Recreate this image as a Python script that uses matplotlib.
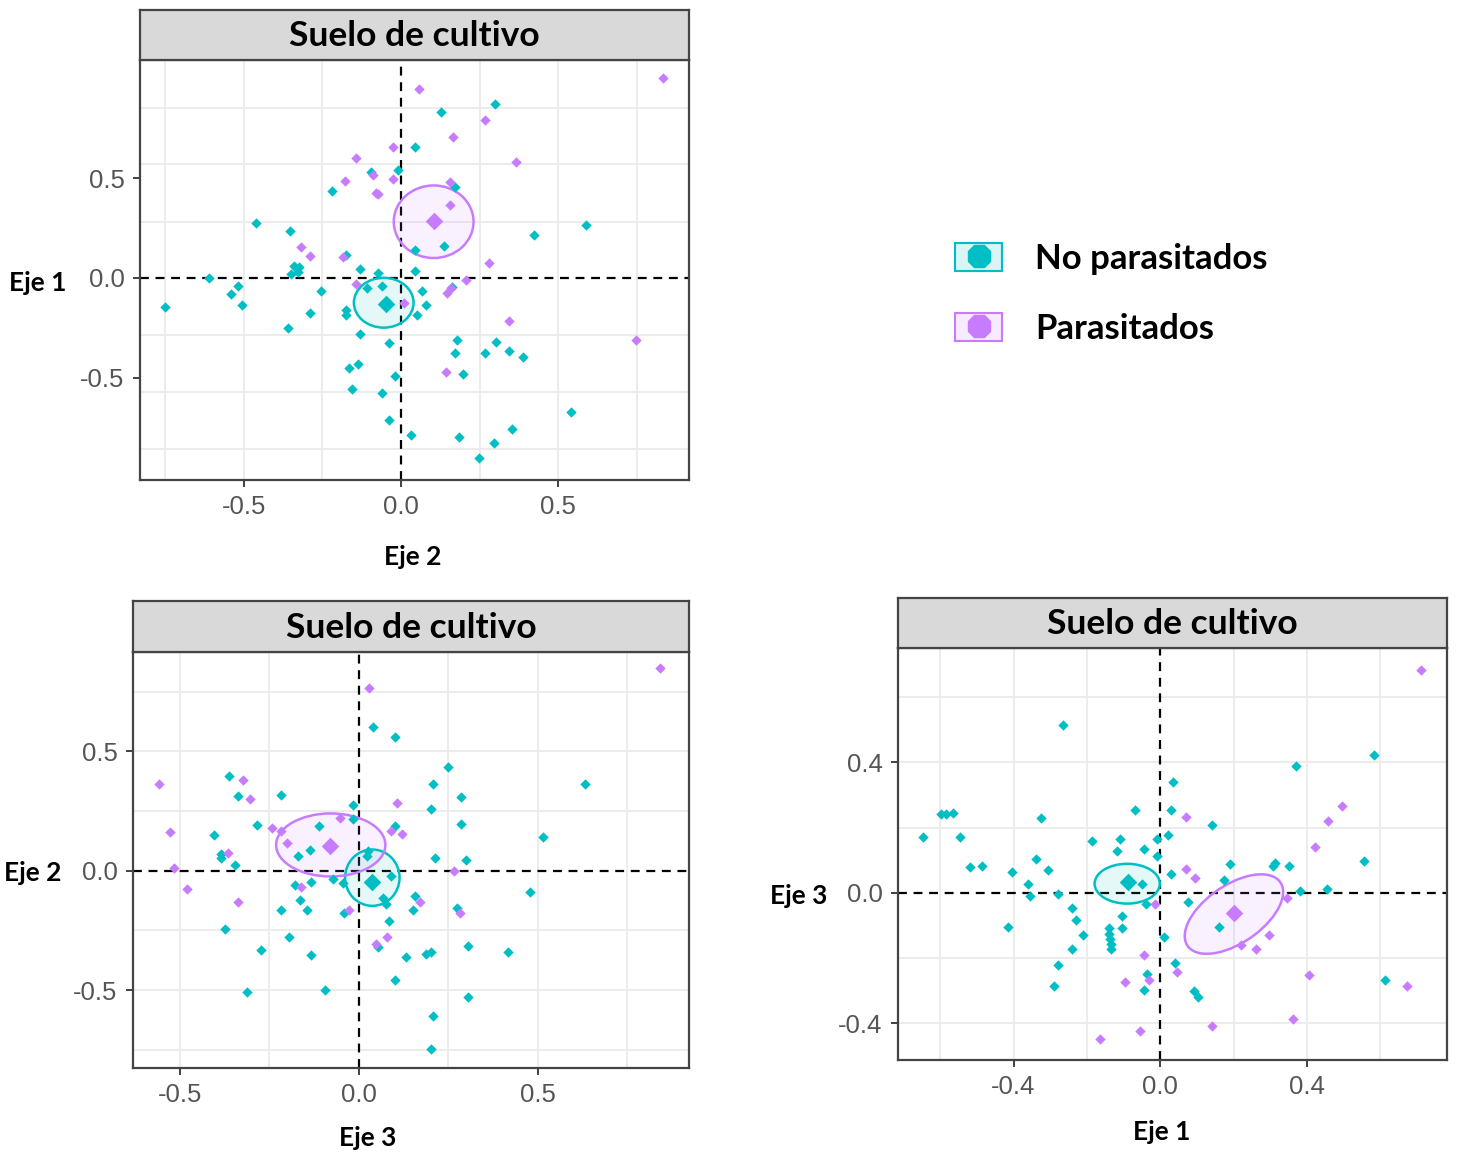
import numpy as np
import matplotlib
matplotlib.use("Agg")
import matplotlib.pyplot as plt
from matplotlib.patches import Ellipse, Patch
from matplotlib.lines import Line2D
from matplotlib.legend_handler import HandlerTuple

TEAL = "#00BFC4"
PURPLE = "#C77CFF"
W, H = 1458, 1157

# ---- panel 1 : Eje 2 (x) vs Eje 1 (y)
p1_teal_x = [0.298, 0.128, 0.046, -0.096, -0.009, 0.171, -0.220, -0.463, 0.588, -0.352, 0.423, 0.136,
             0.046, -0.176, -0.340, -0.324, -0.349, -0.329, -0.129, -0.073, 0.046, -0.610, -0.519, -0.541,
             -0.507, -0.750, -0.256, -0.108, -0.061, 0.162, 0.067, 0.080, -0.290, -0.175, -0.175, 0.050,
             -0.359, -0.129, -0.039, 0.177, 0.171, 0.302, 0.268, 0.344, 0.387, 0.198, -0.164, -0.136,
             -0.019, -0.157, -0.060, 0.541, -0.039, 0.031, 0.184, 0.352, 0.296, 0.247]
p1_teal_y = [0.874, 0.833, 0.655, 0.531, 0.541, 0.456, 0.434, 0.275, 0.267, 0.234, 0.214, 0.159,
             0.139, 0.116, 0.060, 0.056, 0.020, 0.028, 0.045, 0.023, 0.033, 0.002, -0.040, -0.080,
             -0.133, -0.146, -0.063, -0.050, -0.040, -0.046, -0.063, -0.133, -0.176, -0.163, -0.187, -0.187,
             -0.250, -0.282, -0.325, -0.312, -0.376, -0.323, -0.376, -0.365, -0.398, -0.483, -0.449, -0.431,
             -0.491, -0.556, -0.577, -0.672, -0.713, -0.788, -0.798, -0.756, -0.829, -0.904]
p1_purp_x = [0.834, 0.058, 0.268, 0.164, -0.026, -0.143, 0.365, -0.089, -0.026, -0.177, 0.156, -0.081,
             -0.073, 0.156, -0.318, -0.289, -0.186, 0.281, 0.206, 0.158, 0.148, 0.011, -0.142, 0.344,
             0.748, 0.142]
p1_purp_y = [1.002, 0.950, 0.791, 0.708, 0.655, 0.602, 0.582, 0.517, 0.498, 0.484, 0.479, 0.426,
             0.423, 0.368, 0.153, 0.109, 0.103, 0.075, -0.008, -0.051, -0.073, -0.126, -0.030, -0.217,
             -0.312, -0.473]
p1_centroids = [(-0.047, -0.129), (0.106, 0.285)]
p1_ellipses = [(-0.055, -0.124, 0.19, 0.25, 0), (0.104, 0.282, 0.254, 0.364, 0)]

# ---- panel 2 : Eje 3 (x) vs Eje 2 (y)
p2_teal_x = [0.041, 0.101, 0.250, -0.361, 0.207, 0.633, -0.336, -0.218, 0.286, -0.015, 0.201, -0.015,
             -0.111, 0.286, -0.284, -0.405, 0.101, 0.515, -0.137, -0.169, -0.383, -0.383, -0.345, 0.212,
             0.300, 0.027, 0.022, -0.071, -0.043, 0.091, -0.132, -0.177, 0.479, 0.067, 0.077, 0.157,
             -0.163, -0.218, -0.144, -0.041, 0.151, 0.274, 0.084, -0.374, 0.054, -0.194, -0.274, -0.132,
             0.133, 0.188, 0.203, 0.306, 0.417, 0.101, -0.311, -0.095, 0.306, 0.207, 0.201]
p2_teal_y = [0.601, 0.558, 0.434, 0.397, 0.364, 0.364, 0.312, 0.319, 0.310, 0.275, 0.257, 0.215,
             0.187, 0.197, 0.190, 0.149, 0.187, 0.142, 0.088, 0.063, 0.072, 0.053, 0.025, 0.053,
             0.046, 0.081, 0.060, -0.035, -0.052, -0.024, -0.049, -0.060, -0.087, -0.115, -0.139, -0.104,
             -0.122, -0.164, -0.164, -0.176, -0.164, -0.157, -0.211, -0.246, -0.319, -0.279, -0.333, -0.351,
             -0.360, -0.350, -0.341, -0.315, -0.341, -0.456, -0.508, -0.501, -0.527, -0.607, -0.747]
p2_purp_x = [0.842, 0.028, -0.324, -0.558, -0.304, 0.108, -0.053, -0.242, -0.217, -0.527, 0.091, 0.121,
             -0.200, -0.364, -0.516, 0.267, -0.162, -0.478, 0.171, -0.336, -0.027, 0.282, 0.078, 0.047]
p2_purp_y = [0.847, 0.767, 0.381, 0.364, 0.301, 0.284, 0.222, 0.177, 0.166, 0.162, 0.166, 0.152,
             0.117, 0.074, 0.011, -0.003, -0.070, -0.077, -0.131, -0.131, -0.164, -0.178, -0.279, -0.305]
p2_centroids = [(0.037, -0.049), (-0.080, 0.103)]
p2_ellipses = [(0.038, -0.029, 0.152, 0.236, 0), (-0.078, 0.108, 0.305, 0.264, 0)]

# ---- panel 3 : Eje 1 (x) vs Eje 3 (y)
p3_teal_x = [-0.264, 0.584, 0.369, 0.035, -0.598, -0.584, -0.565, -0.068, 0.029, -0.325, 0.142, -0.647,
             -0.547, -0.186, -0.110, -0.008, 0.022, -0.117, -0.043, -0.010, -0.340, 0.555, -0.518, -0.487,
             -0.403, -0.306, 0.191, 0.307, 0.314, 0.352, 0.029, -0.050, -0.360, -0.354, -0.278, 0.174,
             0.456, 0.381, 0.075, -0.039, -0.241, -0.229, -0.103, -0.415, -0.103, -0.141, -0.139, -0.137,
             -0.133, -0.133, -0.210, 0.160, 0.010, -0.241, -0.278, 0.041, -0.037, -0.043, -0.289, 0.092,
             0.104, 0.614]
p3_teal_y = [0.515, 0.422, 0.390, 0.341, 0.241, 0.241, 0.246, 0.253, 0.253, 0.228, 0.208, 0.172,
             0.172, 0.159, 0.166, 0.166, 0.178, 0.129, 0.135, 0.114, 0.104, 0.097, 0.078, 0.083,
             0.065, 0.070, 0.088, 0.083, 0.090, 0.083, 0.059, 0.027, 0.028, -0.010, -0.003, 0.040,
             0.013, 0.005, -0.027, -0.035, -0.047, -0.083, -0.072, -0.104, -0.109, -0.109, -0.126, -0.141,
             -0.156, -0.171, -0.129, -0.104, -0.136, -0.172, -0.222, -0.216, -0.248, -0.298, -0.284, -0.302,
             -0.320, -0.266]
p3_purp_x = [0.711, 0.495, 0.069, 0.458, 0.423, 0.069, 0.095, 0.346, -0.013, 0.297, 0.220, 0.261,
             -0.043, 0.045, -0.031, -0.097, 0.405, 0.674, 0.363, 0.142, -0.056, -0.163]
p3_purp_y = [0.683, 0.265, 0.233, 0.221, 0.141, 0.072, 0.047, -0.015, -0.033, -0.129, -0.161, -0.172,
             -0.191, -0.241, -0.266, -0.272, -0.253, -0.284, -0.385, -0.409, -0.422, -0.447]
p3_centroids = [(-0.089, 0.033), (0.201, -0.063)]
p3_ellipses = [(-0.090, 0.028, 0.178, 0.122, 0), (0.201, -0.065, 0.32, 0.17, 40)]

panel_title = "Suelo de cultivo"
legend_labels = ["No parasitados", "Parasitados"]

LABEL_FONT = ["Lato", "DejaVu Sans"]
TICK_FONT = ["Liberation Sans", "DejaVu Sans"]


def box(l, t, r, b):
    return [l / W, 1 - b / H, (r - l) / W, (b - t) / H]


fig = plt.figure(figsize=(W / 100, H / 100), dpi=100)


def panel(rect, strip_rect, tx, ty, px, py, cents, ells, xlim, ylim, xticks, yticks, xgrid, ygrid):
    ax = fig.add_axes(box(*rect))
    ax.set_xlim(*xlim)
    ax.set_ylim(*ylim)
    ax.set_xticks(xticks)
    ax.set_yticks(yticks)
    ax.set_xticklabels([f"{v:.1f}" for v in xticks], fontfamily=TICK_FONT)
    ax.set_yticklabels([f"{v:.1f}" for v in yticks], fontfamily=TICK_FONT)
    for g in xgrid:
        ax.axvline(g, color="#ebebeb", lw=1.3, zorder=0)
    for g in ygrid:
        ax.axhline(g, color="#ebebeb", lw=1.3, zorder=0)
    ax.tick_params(labelsize=18.5, labelcolor="#555555", color="#333333", length=5, width=1.3, pad=6)
    for s in ax.spines.values():
        s.set_color("#444444")
        s.set_linewidth(1.6)
    ax.axhline(0, color="black", ls=(0, (4, 3)), lw=1.6, zorder=1)
    ax.axvline(0, color="black", ls=(0, (4, 3)), lw=1.6, zorder=1)
    for (cx, cy, w, h, a), col in zip(ells, [TEAL, PURPLE]):
        ax.add_patch(Ellipse((cx, cy), w, h, angle=a, facecolor=col, alpha=0.1, edgecolor="none", zorder=2))
        ax.add_patch(Ellipse((cx, cy), w, h, angle=a, facecolor="none", edgecolor=col, lw=1.8, zorder=3))
    ax.scatter(tx, ty, marker="D", s=28, color=TEAL, linewidths=0, zorder=4)
    ax.scatter(px, py, marker="D", s=28, color=PURPLE, linewidths=0, zorder=4)
    for (cx, cy), col in zip(cents, [TEAL, PURPLE]):
        ax.scatter([cx], [cy], marker="D", s=80, color=col, linewidths=0, zorder=5)

    sx = fig.add_axes(box(*strip_rect))
    sx.set_facecolor("#d9d9d9")
    sx.set_xticks([])
    sx.set_yticks([])
    for s in sx.spines.values():
        s.set_color("#444444")
        s.set_linewidth(1.6)
    sx.text(0.5, 0.47, panel_title, ha="center", va="center", fontsize=25.5, fontweight="bold",
            fontfamily=LABEL_FONT)
    return ax


panel((140, 60, 689, 480), (140, 10, 689, 60), p1_teal_x, p1_teal_y, p1_purp_x, p1_purp_y,
      p1_centroids, p1_ellipses, (-0.831, 0.917), (-1.013, 1.093), [-0.5, 0.0, 0.5], [-0.5, 0.0, 0.5],
      [-0.75, -0.5, -0.25, 0.25, 0.5, 0.75], [-0.857, -0.571, -0.286, 0.28, 0.571, 0.852])

panel((133, 652, 689, 1068), (133, 601, 689, 652), p2_teal_x, p2_teal_y, p2_purp_x, p2_purp_y,
      p2_centroids, p2_ellipses, (-0.63, 0.922), (-0.826, 0.916), [-0.5, 0.0, 0.5], [-0.5, 0.0, 0.5],
      [-0.5, -0.25, 0.25, 0.5, 0.75], [-0.75, -0.5, -0.25, 0.25, 0.5, 0.75])

panel((898, 648, 1447, 1060), (898, 598, 1447, 648), p3_teal_x, p3_teal_y, p3_purp_x, p3_purp_y,
      p3_centroids, p3_ellipses, (-0.715, 0.782), (-0.512, 0.75), [-0.4, 0.0, 0.4], [-0.4, 0.0, 0.4],
      [-0.6, -0.4, -0.2, 0.2, 0.4, 0.6], [-0.4, -0.2, 0.2, 0.4, 0.6])

# axis names
for txt, x, y in [("Eje 1", 38, 283), ("Eje 2", 413, 557), ("Eje 2", 33, 873),
                  ("Eje 3", 368, 1138), ("Eje 3", 799, 896), ("Eje 1", 1162, 1132)]:
    fig.text(x / W, 1 - y / H, txt, ha="center", va="center", fontsize=19, fontweight="bold",
             fontfamily=LABEL_FONT)

# legend
handles = []
for col in [TEAL, PURPLE]:
    key = Patch(facecolor=col, alpha=0.15, edgecolor=col, lw=1.5)
    edge = Patch(facecolor="none", edgecolor=col, lw=1.5)
    mk = Line2D([], [], marker="8", ls="none", color=col, markersize=17)
    handles.append((key, edge, mk))
fig.legend(handles, legend_labels, handler_map={tuple: HandlerTuple(ndivide=1)},
           loc="upper left", bbox_to_anchor=(924 / W, 1 - 212 / H), frameon=False,
           prop={"family": LABEL_FONT, "weight": "bold", "size": 25},
           handlelength=1.35, handleheight=0.86, handletextpad=0.95, labelspacing=1.1)

fig.savefig("out.png", dpi=100)
